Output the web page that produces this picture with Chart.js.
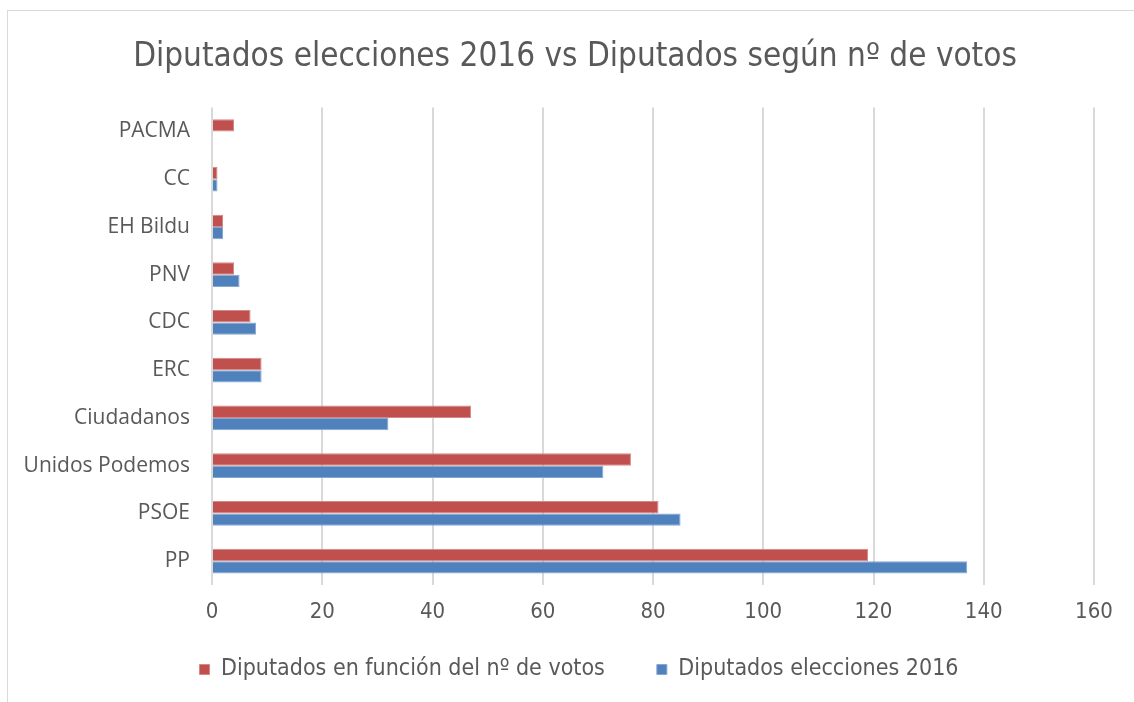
<!DOCTYPE html>
<html>
<head>
<meta charset="utf-8">
<script src="https://cdn.jsdelivr.net/npm/chart.js@4.4.1/dist/chart.umd.min.js"></script>
<style>
  html, body { margin: 0; padding: 0; background: #fff; }
  #wrap { position: relative; width: 1134px; height: 702px; overflow: hidden; }
  #frame { position: absolute; left: 7px; top: 10px; width: 1200px; height: 800px;
           border-left: 1px solid #d9d9d9; border-top: 1px solid #d9d9d9; }
  canvas { position: absolute; left: 0; top: 0; }
</style>
</head>
<body>
<div id="wrap">
  <div id="frame"></div>
  <canvas id="chart" width="1134" height="702"></canvas>
</div>
<script>
// Parties, top to bottom as shown
const parties = ['PACMA', 'CC', 'EH Bildu', 'PNV', 'CDC', 'ERC', 'Ciudadanos', 'Unidos Podemos', 'PSOE', 'PP'];

// Seats if allocated by number of votes
const seatsByVotes = [4, 1, 2, 4, 7, 9, 47, 76, 81, 119];

// Seats actually won in the 2016 election
const seats2016 = [0, 1, 2, 5, 8, 9, 32, 71, 85, 137];

const xTicks = { min: 0, max: 160, step: 20 };

const narrow = "'Liberation Sans Narrow', 'DejaVu Sans Condensed', sans-serif";
const textColor = '#595959';

// Legend sits partly over the x labels' spare room, and title/legend
// are centred a bit right of the canvas middle like the Excel original
const LEGEND_LIFT = 30;
const nudge = {
    id: 'nudge',
    beforeInit(chart) {
        const legend = chart.legend;
        const fit = legend.fit;
        legend.fit = function () {
            fit.call(this);
            this.height -= LEGEND_LIFT;
        };
    },
    afterLayout(chart) {
        const t = chart.titleBlock;
        t.left += 28;
        t.right += 28;
        const l = chart.legend;
        l.left += 32;
        l.right += 32;
        l.top -= LEGEND_LIFT; // bottom stays, so the clip box still holds the text
    }
};

new Chart(document.getElementById('chart'), {
    type: 'bar',
    data: {
        labels: parties,
        datasets: [
            {
                label: 'Diputados en función del nº de votos',
                data: seatsByVotes,
                backgroundColor: '#c0504d',
                borderColor: '#d58886',
                borderWidth: 1
            },
            {
                label: 'Diputados elecciones 2016',
                data: seats2016,
                backgroundColor: '#4f81bd',
                borderColor: '#86a7d2',
                borderWidth: 1
            }
        ]
    },
    options: {
        indexAxis: 'y',
        responsive: false,
        animation: false,
        categoryPercentage: 0.516,
        barPercentage: 1.0,
        layout: { padding: { left: 0, right: 40, top: 0, bottom: 11 } },
        plugins: {
            title: {
                display: true,
                text: 'Diputados elecciones 2016 vs Diputados según nº de votos',
                color: textColor,
                font: { family: narrow, size: 33, weight: 'normal' },
                padding: { top: 38, bottom: 30 }
            },
            legend: {
                position: 'bottom',
                labels: {
                    color: textColor,
                    font: { family: narrow, size: 23 },
                    boxWidth: 10,
                    boxHeight: 10,
                    padding: 52
                }
            },
            tooltip: { enabled: false }
        },
        scales: {
            x: {
                min: xTicks.min,
                max: xTicks.max,
                afterFit: (scale) => { scale.height = 51; },
                ticks: {
                    stepSize: xTicks.step,
                    color: textColor,
                    font: { family: narrow, size: 22 },
                    padding: 14
                },
                grid: { color: '#d9d9d9', lineWidth: 2, drawTicks: false },
                border: { display: false }
            },
            y: {
                afterFit: (scale) => { scale.width = 212; },
                ticks: {
                    color: textColor,
                    font: { family: "'Open Sans', sans-serif", size: 21 },
                    padding: 22
                },
                grid: { display: false, drawTicks: false },
                border: { display: false }
            }
        }
    },
    plugins: [nudge]
});
</script>
</body>
</html>
